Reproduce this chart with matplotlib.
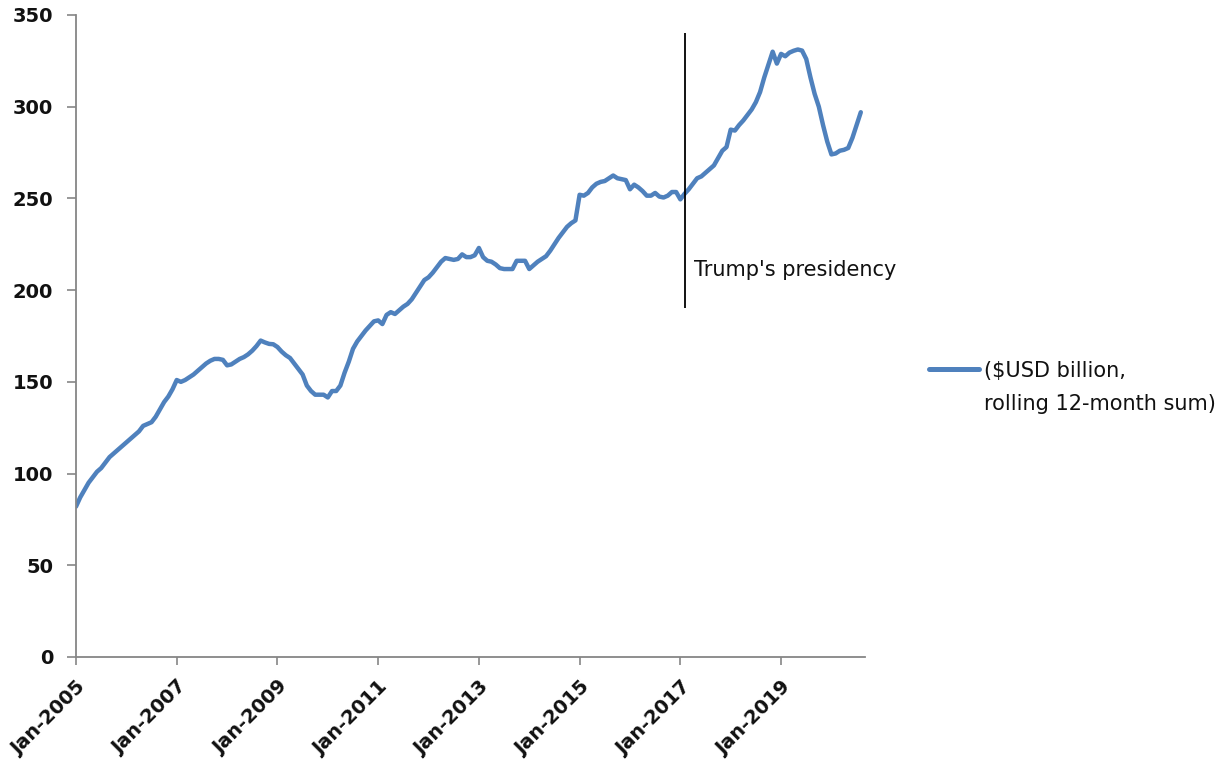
import matplotlib
matplotlib.use("Agg")
import matplotlib.pyplot as plt
from matplotlib.lines import Line2D
import numpy as np
import pandas as pd

# Monthly data, Jan-2005 .. Aug-2020 ($USD billion, rolling 12-month sum)
months = pd.date_range("2005-01-01", periods=188, freq="MS")
values = [
    82, 87, 91, 95, 98, 101, 103, 106, 109, 111, 113, 115,            # 2005
    117, 119, 121, 123, 126, 127, 128, 131, 135, 139, 142, 146,        # 2006
    151, 150, 151, 152.5, 154, 156, 158, 160, 161.5, 162.5, 162.5, 162,  # 2007
    159, 159.5, 161, 162.5, 163.5, 165, 167, 169.5, 172.5, 171.5, 170.7, 170.5,  # 2008
    169, 166.5, 164.5, 163, 160, 157, 154, 148, 145, 143, 143, 143,    # 2009
    141.5, 145, 145, 148, 155, 161, 168, 172, 175, 178, 180.5, 183,    # 2010
    183.5, 181.5, 186.5, 188, 187, 189, 191, 192.5, 195, 198.5, 202, 205.5,  # 2011
    207, 209.5, 212.5, 215.5, 217.5, 217, 216.5, 217, 219.5, 218, 218, 219,  # 2012
    223, 218, 216, 215.5, 214, 212, 211.5, 211.5, 211.5, 216, 216, 216,  # 2013
    211.5, 213.5, 215.5, 217, 218.5, 221.5, 225, 228.5, 231.5, 234.5, 236.5, 238,  # 2014
    252, 251.5, 253, 256, 258, 259, 259.5, 261, 262.5, 261, 260.5, 260,  # 2015
    255, 257.5, 256, 254, 251.5, 251.5, 253, 251, 250.5, 251.5, 253.5, 253.5,  # 2016
    249.5, 252.5, 255, 258, 261, 262, 264, 266, 268, 272, 276, 278,    # 2017
    287.5, 287, 290, 292.5, 295.5, 298.5, 302.5, 308, 316, 323, 330, 323.5,  # 2018
    328.8, 327.5, 329.5, 330.5, 331.2, 330.6, 326, 316, 307, 300, 290, 281,  # 2019
    274, 274.5, 276, 276.5, 277.5, 283, 290, 297,                      # 2020
]
series_label_lines = ["($USD billion,", "rolling 12-month sum)"]

tick_months = ["Jan-2005", "Jan-2007", "Jan-2009", "Jan-2011",
               "Jan-2013", "Jan-2015", "Jan-2017", "Jan-2019"]
y_ticks = [0, 50, 100, 150, 200, 250, 300, 350]

event_month = "Feb-2017"
event_label = "Trump's presidency"
event_range = (190, 340)

month_labels = [m.strftime("%b-%Y") for m in months]
x = np.arange(len(values))

fig = plt.figure(figsize=(12.31, 7.65), dpi=100)
ax = fig.add_axes([76 / 1231, 108 / 765, (865 - 76) / 1231, (657 - 15) / 765])

line_color = "#4F81BD"
ax.plot(x, values, color=line_color, lw=3.2, solid_capstyle="round",
        solid_joinstyle="round")

ev_x = month_labels.index(event_month)
ax.vlines(ev_x, event_range[0], event_range[1], color="black", lw=1.3)
ax.text(ev_x + 2.2, 211, event_label, fontsize=15, fontfamily="DejaVu Sans",
        va="center", ha="left", color="#111111")

ax.set_xlim(0, 188)
ax.set_ylim(0, 350)
ax.set_yticks(y_ticks)
ax.set_xticks([month_labels.index(t) for t in tick_months])
ax.set_xticklabels(tick_months, rotation=45, ha="right", rotation_mode="anchor")

for s in ["top", "right"]:
    ax.spines[s].set_visible(False)
for s in ["left", "bottom"]:
    ax.spines[s].set_color("#868686")
    ax.spines[s].set_linewidth(1.3)

ax.tick_params(axis="y", direction="out", length=6.5, width=1.2, color="#868686",
               pad=10, labelsize=14)
ax.tick_params(axis="x", direction="out", length=5.5, width=1.2, color="#868686",
               pad=9, labelsize=14)
for lab in ax.get_xticklabels() + ax.get_yticklabels():
    lab.set_fontweight("bold")
    lab.set_fontfamily("DejaVu Sans")
    lab.set_color("#111111")

blank = Line2D([], [], color="none")
legend_handle = Line2D([], [], color=line_color, lw=3.6, solid_capstyle="round")
leg = ax.legend([legend_handle, blank], series_label_lines,
                loc="upper left", bbox_to_anchor=(910 / 1231, 1 - 342 / 765),
                bbox_transform=fig.transFigure, frameon=False,
                handlelength=2.4, handletextpad=0.25, labelspacing=0.65,
                prop={"family": "DejaVu Sans", "size": 15})
for t in leg.get_texts():
    t.set_color("#111111")

fig.savefig("out.png", dpi=100, facecolor="white")
